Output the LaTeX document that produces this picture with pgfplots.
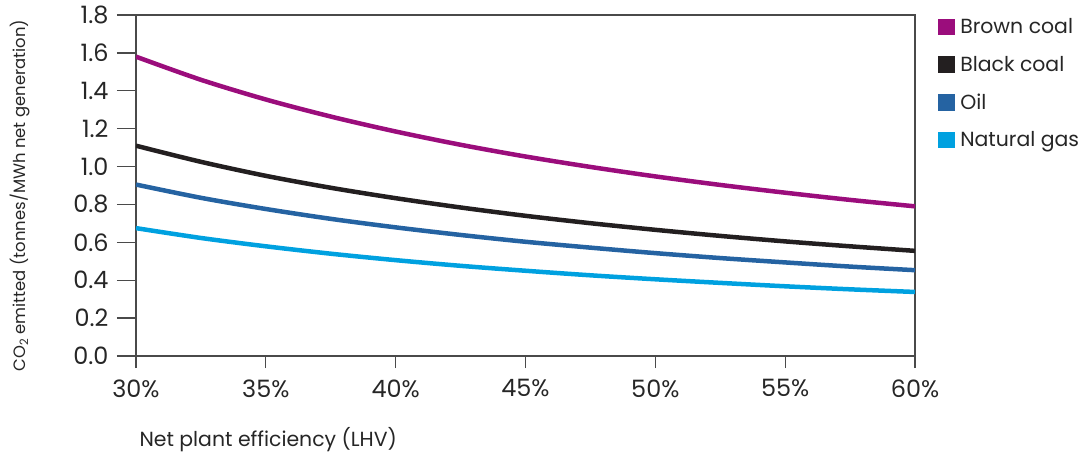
\documentclass[border=0pt]{standalone}
\usepackage{fontspec}
\setmainfont{Poppins}
\usepackage{pgfplots}
\pgfplotsset{compat=1.18}
\usetikzlibrary{calc}
\definecolor{browncoal}{HTML}{9B0D7C}
\definecolor{blackcoal}{HTML}{231F20}
\definecolor{oil}{HTML}{2563A2}
\definecolor{gas}{HTML}{00A1E0}
\definecolor{axisgrey}{HTML}{4A4A4A}
\begin{document}
\begin{tikzpicture}
\begin{axis}[
  name=ax,
  scale only axis, width=779bp, height=341bp,
  xmin=30, xmax=60, ymin=0, ymax=1.8,
  xtick={30,35,40,45,50,55,60},
  ytick={0,0.2,0.4,0.6,0.8,1.0,1.2,1.4,1.6,1.8},
  xticklabel={\pgfmathprintnumber{\tick}\%},
  yticklabel style={xshift=-5bp, /pgf/number format/.cd, fixed, fixed zerofill, precision=1},
  /pgf/number format/assume math mode=true,
  tick align=outside, xtick pos=bottom, ytick pos=left,
  major tick length=19bp,
  xtick style={/pgfplots/major tick length=12bp},
  axis line style={axisgrey, line width=1.3bp},
  tick style={axisgrey, line width=1.3bp},
  ticklabel style={font=\fontsize{24}{28}\selectfont, text=black!85},
  xticklabel style={yshift=-1bp},
  xlabel={Net plant efficiency (LHV)},
  xlabel style={at={(axis description cs:0,-0.246)}, anchor=west, font=\fontsize{20.5}{24}\selectfont, text=black!85},
  ylabel={CO\textsubscript{2} emitted (tonnes/MWh net generation)},
  ylabel style={at={(axis description cs:-0.149,0.47)}, anchor=center, font=\fontsize{16.5}{20}\selectfont, text=black!85},
  legend style={at={(axis description cs:1.0295,0.99)}, anchor=north west, draw=none, fill=none,
    font=\fontsize{20.5}{24}\selectfont, row sep=21bp, inner sep=0pt, text=black!85,
    nodes={inner xsep=5.5bp, inner ysep=0pt}},
  legend cell align=left,
  legend image code/.code={\fill[#1, draw=none] (-5.5bp,-8.3bp) rectangle (11.1bp,8.3bp);},
  every axis plot/.append style={line width=4.5bp, smooth},
]
\addplot[browncoal] coordinates {(30,1.580) (32.5,1.458) (35,1.354) (37.5,1.264) (40,1.185) (42.5,1.115) (45,1.053) (47.5,0.998) (50,0.948) (52.5,0.903) (55,0.862) (57.5,0.824) (60,0.790)};
\addlegendentry{Brown coal}
\addplot[blackcoal] coordinates {(30,1.110) (32.5,1.025) (35,0.951) (37.5,0.888) (40,0.833) (42.5,0.784) (45,0.740) (47.5,0.701) (50,0.666) (52.5,0.634) (55,0.605) (57.5,0.579) (60,0.555)};
\addlegendentry{Black coal}
\addplot[oil] coordinates {(30,0.905) (32.5,0.835) (35,0.776) (37.5,0.724) (40,0.679) (42.5,0.639) (45,0.603) (47.5,0.572) (50,0.543) (52.5,0.517) (55,0.494) (57.5,0.472) (60,0.453)};
\addlegendentry{Oil}
\addplot[gas] coordinates {(30,0.675) (32.5,0.623) (35,0.579) (37.5,0.540) (40,0.506) (42.5,0.476) (45,0.450) (47.5,0.426) (50,0.405) (52.5,0.386) (55,0.368) (57.5,0.352) (60,0.338)};
\addlegendentry{Natural gas}
\end{axis}
\pgfresetboundingbox
\path[use as bounding box] ($(ax.south west)+(-136bp,-102bp)$) rectangle ($(ax.south west)+(953bp,356bp)$);
\end{tikzpicture}
\end{document}
